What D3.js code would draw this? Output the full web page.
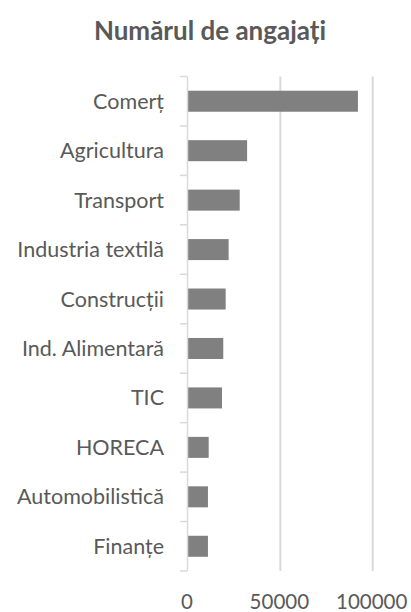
<!DOCTYPE html>
<html>
<head>
<meta charset="utf-8">
<script src="https://cdn.jsdelivr.net/npm/d3@7"></script>
<style>
  body { margin: 0; background: #fff; }
  text { font-family: Lato, "Open Sans", sans-serif; fill: #595959; }
</style>
</head>
<body>
<div id="chart"></div>
<script>
const categories = ["Comerț", "Agricultura", "Transport", "Industria textilă", "Construcții",
  "Ind. Alimentară", "TIC", "HORECA", "Automobilistică", "Finanțe"];
const values = [92000, 32000, 28000, 22000, 20400, 19100, 18400, 11200, 10800, 10800];
const xTicks = [0, 50000, 100000];

const width = 411, height = 612;
const x0 = 188, x1 = 372.7;
const plotTop = 76.5, plotBottom = 571;

const svg = d3.select("#chart").append("svg")
  .attr("width", width)
  .attr("height", height);

const x = d3.scaleLinear().domain([0, 100000]).range([x0, x1]);
const y = d3.scaleBand().domain(categories).range([plotTop, plotBottom])
  .paddingInner(0.575).paddingOuter(0.2875);

// Title
svg.append("text")
  .attr("x", 210)
  .attr("y", 40)
  .attr("text-anchor", "middle")
  .style("font-size", "26px")
  .style("font-weight", "bold")
  .text("Numărul de angajați");

// Gridlines
svg.append("g")
  .selectAll("line")
  .data(xTicks.slice(1))
  .join("line")
  .attr("x1", d => x(d)).attr("x2", d => x(d))
  .attr("y1", plotTop).attr("y2", plotBottom)
  .attr("stroke", "#d9d9d9")
  .attr("stroke-width", 2);

// Bars
svg.append("g")
  .selectAll("rect")
  .data(values)
  .join("rect")
  .attr("x", x(0))
  .attr("y", (d, i) => y(categories[i]))
  .attr("width", d => x(d) - x(0))
  .attr("height", y.bandwidth())
  .attr("fill", "#808080");

// Vertical axis line and category ticks
const step = y.step();
svg.append("line")
  .attr("x1", x0 - 0.5).attr("x2", x0 - 0.5)
  .attr("y1", plotTop).attr("y2", plotBottom)
  .attr("stroke", "#d9d9d9")
  .attr("stroke-width", 1.5);

svg.append("g")
  .selectAll("line")
  .data(d3.range(categories.length + 1))
  .join("line")
  .attr("x1", x0 - 8).attr("x2", x0 - 0.5)
  .attr("y1", i => plotTop + i * step).attr("y2", i => plotTop + i * step)
  .attr("stroke", "#d9d9d9")
  .attr("stroke-width", 1.5);

// Category labels
svg.append("g")
  .selectAll("text")
  .data(categories)
  .join("text")
  .attr("x", 164)
  .attr("y", d => y(d) + y.bandwidth() / 2)
  .attr("dy", "0.35em")
  .attr("text-anchor", "end")
  .style("font-size", "21.5px")
  .text(d => d);

// X tick labels
svg.append("g")
  .selectAll("text")
  .data(xTicks)
  .join("text")
  .attr("x", d => x(d) - 1)
  .attr("y", 609)
  .attr("text-anchor", "middle")
  .style("font-size", "20.5px")
  .text(d => d);
</script>
</body>
</html>
